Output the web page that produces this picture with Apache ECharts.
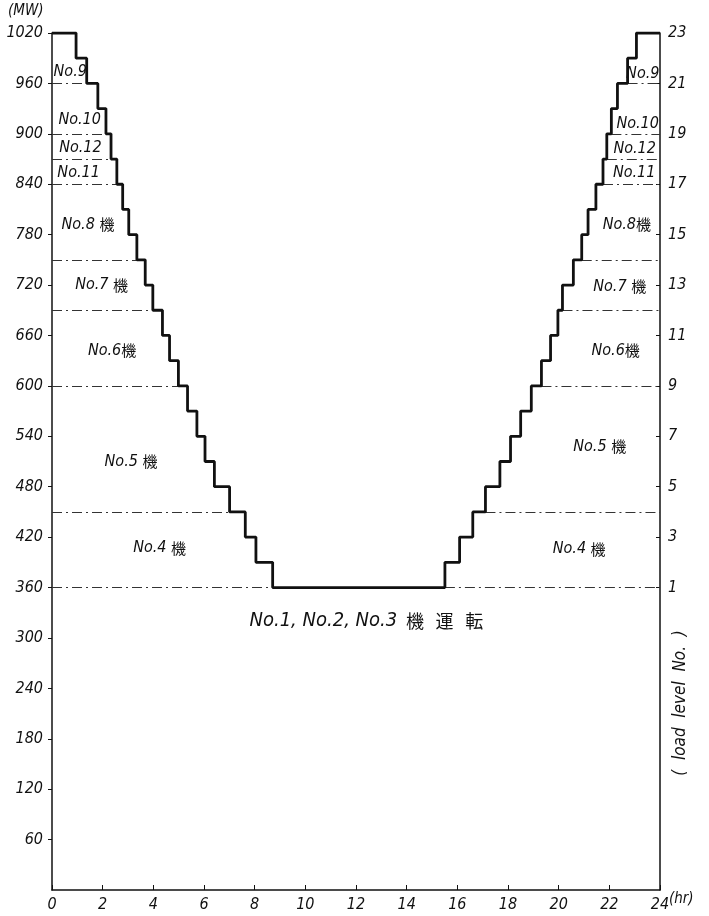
<!DOCTYPE html>
<html>
<head>
<meta charset="utf-8">
<script src="https://cdn.jsdelivr.net/npm/echarts@6/dist/echarts.min.js"></script>
<style>
html,body{margin:0;padding:0;background:#fff;}
#c{width:709px;height:916px;}
</style>
</head>
<body>
<div id="c"></div>
<script>
// ---- data ----
const hours = [0,0.95,1.37,1.81,2.13,2.33,2.56,2.79,3.03,3.35,3.68,3.98,4.36,4.64,4.99,5.35,5.72,6.04,6.41,7.01,7.63,8.05,8.71,
  15.51,16.09,16.61,17.11,17.68,18.10,18.50,18.92,19.32,19.68,19.97,20.15,20.58,20.91,21.16,21.47,21.75,21.90,22.08,22.32,22.72,23.07,24];
const loadsMW = [1020,990,960,930,900,870,840,810,780,750,720,690,660,630,600,570,540,510,480,450,420,390,360,
  390,420,450,480,510,540,570,600,630,660,690,720,750,780,810,840,870,900,930,960,990,1020,1020];
const boundariesMW = [360,450,600,690,750,840,870,900,960];
const xTicks = [0,2,4,6,8,10,12,14,16,18,20,22,24];
const leftTicksMW = [60,120,180,240,300,360,420,480,540,600,660,720,780,840,900,960,1020];
const levelTicks = [1,3,5,7,9,11,13,15,17,19,21,23];
const annoText = ['No.9','No.10','No.12','No.11','No.8 機','No.7 機','No.6機','No.5 機','No.4 機',
  'No.9','No.10','No.12','No.11','No.8機','No.7 機','No.6機','No.5 機','No.4 機',
  'No.1, No.2, No.3 機 運 転'];
const annoHour = [0.72,1.09,1.12,1.05,1.42,1.96,2.37,3.12,4.25,
  23.32,23.12,23.0,22.98,22.69,22.41,22.25,21.62,20.81,
  12.47];
const annoMW = [974,917,883,853,792,720,642,510,407,
  971,912,882,853,792,718,642,528,406,
  320];

// level <-> MW : MW = 330 + 30*level
const levelOfMW = mw => (mw - 330) / 30;

const FONT = "'DejaVu Sans Condensed','Liberation Sans',sans-serif";
const CJK = "'Noto Sans CJK JP',sans-serif";

const stepData = hours.map((h, i) => [h, loadsMW[i]]);

// dash-dot boundary segments computed from the step data
const minIdx = loadsMW.indexOf(Math.min(...loadsMW));
const markData = [];
boundariesMW.forEach(b => {
  let tL = null, tR = null;
  for (let i = 0; i <= minIdx; i++) if (loadsMW[i] === b) { tL = hours[i]; break; }
  for (let j = minIdx + 1; j < loadsMW.length; j++) if (loadsMW[j] === b + 30) { tR = hours[j]; break; }
  markData.push([{coord:[0,b]},{coord:[tL,b]}]);
  markData.push([{coord:[tR,b]},{coord:[24,b]}]);
});

const annoData = annoText.map((t, i) => [annoHour[i], annoMW[i], i]);

const tickLabel = {color: '#111', fontSize: 16, fontStyle: 'italic', fontFamily: FONT};

const chart = echarts.init(document.getElementById('c'), null, {renderer:'canvas'});
chart.setOption({
  animation: false,
  backgroundColor: '#fff',
  grid: {left: 52, right: 49, top: 33, bottom: 26, containLabel: false},
  xAxis: {
    type: 'value', min: 0, max: 24, interval: 2,
    axisLine: {show: true, lineStyle: {color: '#111', width: 1.5}},
    axisTick: {show: true, inside: true, length: 5, lineStyle: {color: '#111', width: 1}},
    axisLabel: Object.assign({margin: 7, customValues: xTicks, formatter: v => String(v)}, tickLabel),
    splitLine: {show: false}
  },
  yAxis: [{
    type: 'value', min: 0, max: 1020, interval: 60, position: 'left',
    axisLine: {show: true, onZero: false, lineStyle: {color: '#111', width: 1.5}},
    axisTick: {show: true, inside: false, length: 4, lineStyle: {color: '#111', width: 1},
      customValues: leftTicksMW},
    axisLabel: Object.assign({margin: 9, customValues: leftTicksMW, formatter: v => String(v)}, tickLabel),
    splitLine: {show: false}
  }, {
    type: 'value', min: levelOfMW(0), max: levelOfMW(1020), position: 'right',
    axisLine: {show: true, onZero: false, lineStyle: {color: '#111', width: 1.5}},
    axisTick: {show: true, inside: true, length: 4, lineStyle: {color: '#111', width: 1},
      customValues: levelTicks},
    axisLabel: Object.assign({margin: 8, customValues: levelTicks, formatter: v => String(v)}, tickLabel),
    splitLine: {show: false}
  }],
  series: [{
    type: 'line', step: 'end', data: stepData, yAxisIndex: 0,
    symbol: 'none', lineStyle: {color: '#111', width: 2.8}, z: 5,
    markLine: {
      silent: true, symbol: ['none','none'], label: {show: false},
      lineStyle: {color: '#333', width: 1, type: [10,4,2,4]},
      data: markData
    }
  }, {
    type: 'custom', data: annoData, yAxisIndex: 0, silent: true, z: 6,
    renderItem: (params, api) => {
      const idx = api.value(2);
      const big = idx === annoText.length - 1;
      const pt = api.coord([api.value(0), api.value(1)]);
      return {
        type: 'text', x: pt[0], y: pt[1],
        style: {
          text: annoText[idx].replace(/([機運転])/g, '{k|$1}'),
          fill: '#111', align: 'center', verticalAlign: 'middle',
          fontSize: big ? 20 : 16, fontStyle: 'italic', fontFamily: FONT,
          rich: {k: {fontFamily: CJK, fontStyle: 'normal', fontSize: big ? 18 : 15, fill: '#111',
            padding: big ? [0, 3, 0, 3] : 0}}
        }
      };
    }
  }],
  graphic: [
    {type: 'text', left: 8, top: 4, style: {text: '(MW)', fontSize: 15, fontStyle: 'italic', fontFamily: FONT, fill: '#111'}},
    {type: 'text', left: 669, top: 892, style: {text: '(hr)', fontSize: 15, fontStyle: 'italic', fontFamily: FONT, fill: '#111'}},
    {type: 'text', x: 681, y: 703, rotation: Math.PI / 2,
      style: {text: '(  load  level  No.  )', fontSize: 17, fontStyle: 'italic', fontFamily: FONT, fill: '#111',
        align: 'center', verticalAlign: 'middle'}}
  ]
});
</script>
</body>
</html>
